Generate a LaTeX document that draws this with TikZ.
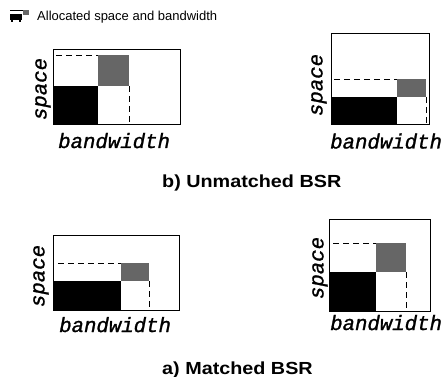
\documentclass[tikz,border=0pt]{standalone}
\usepackage{fontspec}
\setmainfont{Liberation Sans}
\newfontfamily\axisfont[FakeBold=1.2]{Liberation Mono}
\tikzset{
  frame/.style={draw=black, line width=0.9pt},
  usedbw/.style={fill=black},
  extrabw/.style={fill=black!60},
  guide/.style={draw=black, line width=0.8pt, dash pattern=on 6pt off 4pt},
  axislabel/.style={font=\axisfont\itshape\fontsize{20.7}{22}\selectfont, inner sep=0pt},
  spacelabel/.style={axislabel, rotate=90},
  bwlabel/.style={axislabel, anchor=base west},
  caption/.style={font=\bfseries\fontsize{17.5}{20}\selectfont, inner sep=0pt, anchor=base west, xscale=1.13},
}
\begin{document}
\begin{tikzpicture}[x=1pt, y=-1pt]
\useasboundingbox (0,0) rectangle (442,377);

% legend icon and text
\fill[usedbw] (10,14) rectangle (22,20);
\fill[usedbw] (11,19) rectangle (13,22);
\fill[usedbw] (19,19) rectangle (21,22);
\draw[line width=1.4pt] (10,10.8) -- (23,10.8);
\fill[extrabw] (23,10) rectangle (29,15.5);
\node[anchor=base west, inner sep=0pt, font=\fontsize{13}{15}\selectfont] (legend) at (37,20.5) {Allocated space and bandwidth};

% b) unmatched, left panel
\fill[usedbw] (53,86) rectangle (98,124);
\fill[extrabw] (98,55) rectangle (129,86);
\draw[guide] (56,55) -- (98,55);
\draw[guide] (129,86) -- (129,124);
\draw[frame] (53,49) rectangle (180,124);
\node[spacelabel] (s1) at (43,89) {space};
\node[bwlabel] (b1) at (58,148) {bandwidth};

% b) unmatched, right panel
\fill[usedbw] (331,97) rectangle (397,124);
\fill[extrabw] (397,79) rectangle (426,97);
\draw[guide] (334,79) -- (397,79);
\draw[guide] (426,97) -- (426,124);
\draw[frame] (331,33) rectangle (429,124);
\node[spacelabel] (s2) at (319,85) {space};
\node[bwlabel] (b2) at (330,148.5) {bandwidth};

\node[caption] (capb) at (162,188) {b) Unmatched BSR};

% a) matched, left panel
\fill[usedbw] (53,281) rectangle (121,310);
\fill[extrabw] (121,263) rectangle (149,281);
\draw[guide] (58,263) -- (121,263);
\draw[guide] (149,281) -- (149,310);
\draw[frame] (53,235) rectangle (179,310);
\node[spacelabel] (s3) at (41,276) {space};
\node[bwlabel] (b3) at (59,332) {bandwidth};

% a) matched, right panel
\fill[usedbw] (329,272) rectangle (376,311);
\fill[extrabw] (376,243) rectangle (406,272);
\draw[guide] (333,243) -- (376,243);
\draw[guide] (406,272) -- (406,311);
\draw[frame] (329,219) rectangle (430,311);
\node[spacelabel] (s4) at (320,268) {space};
\node[bwlabel] (b4) at (330,330) {bandwidth};

\node[caption] (capa) at (162,374) {a) Matched BSR};
\end{tikzpicture}
\end{document}
